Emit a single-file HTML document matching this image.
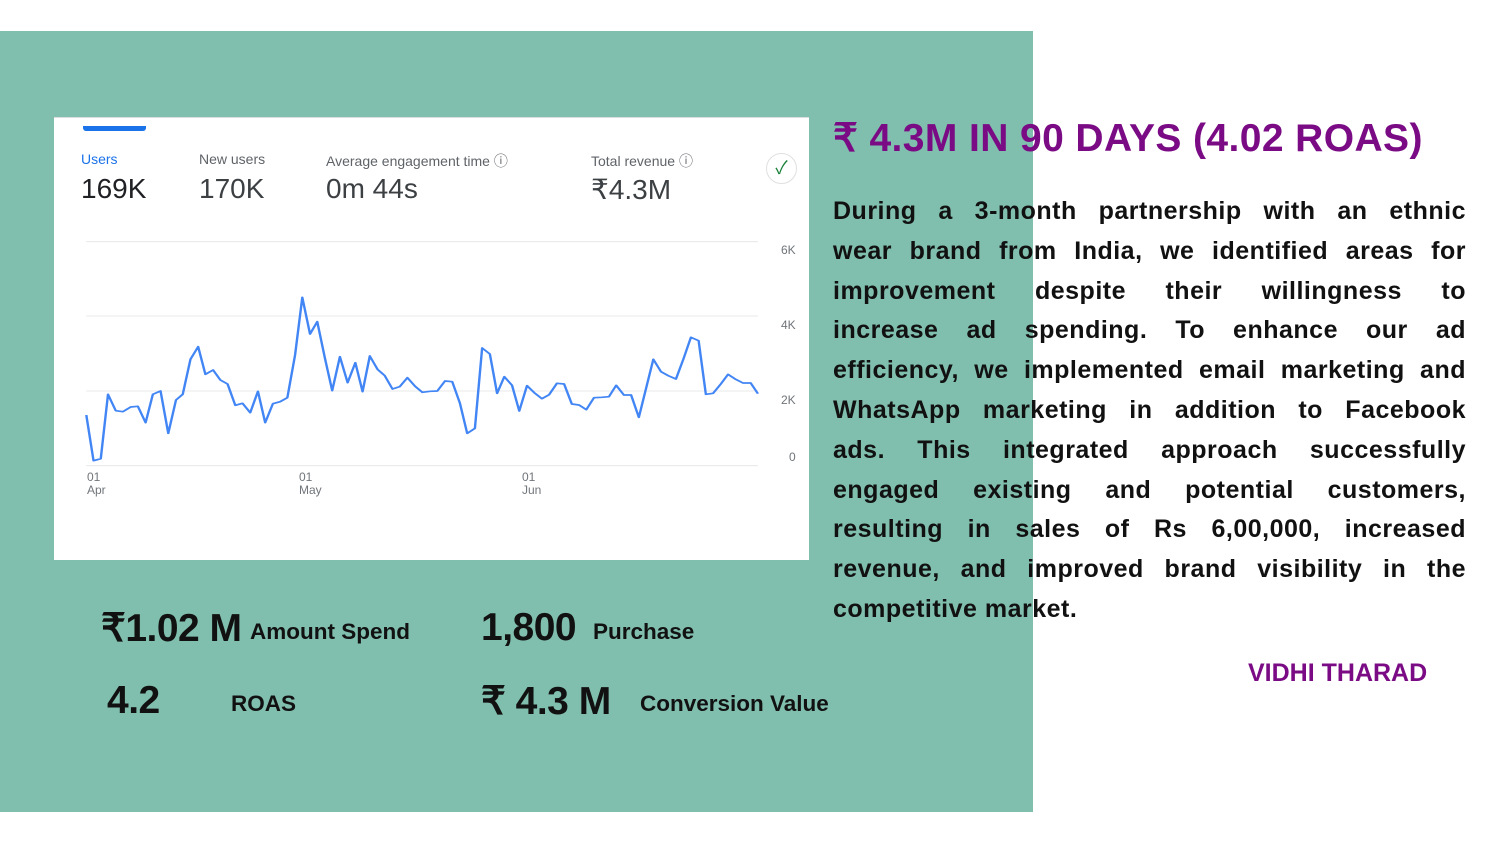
<!DOCTYPE html>
<html><head><meta charset="utf-8"><style>
*{margin:0;padding:0;box-sizing:border-box}
body{width:1500px;height:844px;background:#fff;position:relative;overflow:hidden;font-family:"Liberation Sans","Noto Sans CJK SC",sans-serif}
.abs{position:absolute;white-space:nowrap}
#green{left:0;top:31px;width:1033px;height:781px;background:#80bead}
#card{left:54px;top:117px;width:755px;height:443px;background:#fff}
.lbl{font-size:14px;color:#5f6368}
.val{font-size:28px;color:#3c4043}
.tick{font-size:12px;color:#70757a}
h1{position:absolute;left:833px;top:116px;font-size:39px;font-weight:bold;color:#7a0b85;white-space:nowrap;letter-spacing:0.4px}
#para{position:absolute;left:833px;top:192px;width:633px;font-size:25px;font-weight:bold;line-height:39.8px;color:#111;letter-spacing:0.5px}
#para div{text-align:justify;text-align-last:justify;white-space:nowrap}
#para div.last{text-align-last:left}
.big{font-size:39px;font-weight:bold;color:#111;letter-spacing:-0.5px}
.sm{font-size:22.5px;font-weight:bold;color:#111}
</style></head><body>
<div class="abs" id="green"></div>
<div class="abs" id="card"></div>
<div class="abs" style="left:54px;top:117px;width:755px;height:10px;border-top:1px solid #ddd"></div>
<div class="abs" style="left:83px;top:126px;width:63px;height:5px;background:#1a73e8;border-radius:0 0 3px 3px"></div>
<div class="abs lbl" style="left:81px;top:151px;color:#1a73e8">Users</div>
<div class="abs val" style="left:81px;top:173px;color:#202124">169K</div>
<div class="abs lbl" style="left:199px;top:151px">New users</div>
<div class="abs val" style="left:199px;top:173px">170K</div>
<div class="abs lbl" style="left:326px;top:151px">Average engagement time ⓘ</div>
<div class="abs val" style="left:326px;top:173px">0m 44s</div>
<div class="abs lbl" style="left:591px;top:151px">Total revenue ⓘ</div>
<div class="abs val" style="left:591px;top:173px">₹4.3M</div>
<div class="abs" style="left:766px;top:153px;width:31px;height:31px;border-radius:50%;border:1px solid #e0e0e0;color:#188038;font-size:18px;text-align:center;line-height:29px">✓</div>
<svg class="abs" style="left:54px;top:230px" width="756" height="280" viewBox="0 0 1568 840" preserveAspectRatio="none">
<g stroke="#e8e8e8" stroke-width="3"><line x1="67" y1="35" x2="1460" y2="35"/><line x1="67" y1="258" x2="1460" y2="258"/><line x1="67" y1="483" x2="1460" y2="483"/><line x1="67" y1="707" x2="1460" y2="707"/></g>
<polyline fill="none" stroke="#4285f4" stroke-width="5" stroke-linejoin="round" points="67,555 82,692 97,686 112,493 128,542 143,545 159,531 174,529 190,578 205,493 221,483 237,610 253,510 267,493 283,388 299,350 314,433 330,420 345,450 360,462 376,526 391,520 407,548 423,484 438,578 454,521 469,515 484,503 500,375 515,202 531,312 546,275 562,385 577,482 593,380 609,458 625,398 640,485 655,378 671,418 686,437 702,477 717,470 733,443 749,469 764,487 780,484 795,483 811,453 826,455 842,520 857,610 873,595 888,354 904,372 919,490 934,440 950,466 965,543 981,467 996,488 1012,506 1027,494 1043,460 1058,462 1074,522 1089,525 1104,539 1120,503 1136,502 1151,500 1166,466 1182,495 1197,495 1213,562 1228,475 1243,388 1259,425 1274,437 1290,447 1306,385 1321,322 1337,332 1352,493 1367,490 1383,462 1398,433 1414,448 1429,459 1445,459 1460,491"/>
</svg>
<div class="abs tick" style="left:781px;top:243px">6K</div>
<div class="abs tick" style="left:781px;top:318px">4K</div>
<div class="abs tick" style="left:781px;top:393px">2K</div>
<div class="abs tick" style="left:789px;top:450px">0</div>
<div class="abs tick" style="left:87px;top:471px;line-height:13px">01<br>Apr</div>
<div class="abs tick" style="left:299px;top:471px;line-height:13px">01<br>May</div>
<div class="abs tick" style="left:522px;top:471px;line-height:13px">01<br>Jun</div>
<h1>₹ 4.3M IN 90 DAYS (4.02 ROAS)</h1>
<div id="para">
<div>During a 3-month partnership with an ethnic</div>
<div>wear brand from India, we identified areas for</div>
<div>improvement despite their willingness to</div>
<div>increase ad spending. To enhance our ad</div>
<div>efficiency, we implemented email marketing and</div>
<div>WhatsApp marketing in addition to Facebook</div>
<div>ads. This integrated approach successfully</div>
<div>engaged existing and potential customers,</div>
<div>resulting in sales of Rs 6,00,000, increased</div>
<div>revenue, and improved brand visibility in the</div>
<div class="last">competitive market.</div>
</div>
<div class="abs" style="left:1248px;top:659px;font-size:25px;font-weight:bold;color:#7a0b85">VIDHI THARAD</div>
<div class="abs big" style="left:101px;top:606px">₹1.02 M</div>
<div class="abs sm" style="left:250px;top:619px">Amount Spend</div>
<div class="abs big" style="left:481px;top:606px">1,800</div>
<div class="abs sm" style="left:593px;top:619px">Purchase</div>
<div class="abs big" style="left:107px;top:679px">4.2</div>
<div class="abs sm" style="left:231px;top:691px">ROAS</div>
<div class="abs big" style="left:481px;top:679px">₹ 4.3 M</div>
<div class="abs sm" style="left:640px;top:691px">Conversion Value</div>
</body></html>
